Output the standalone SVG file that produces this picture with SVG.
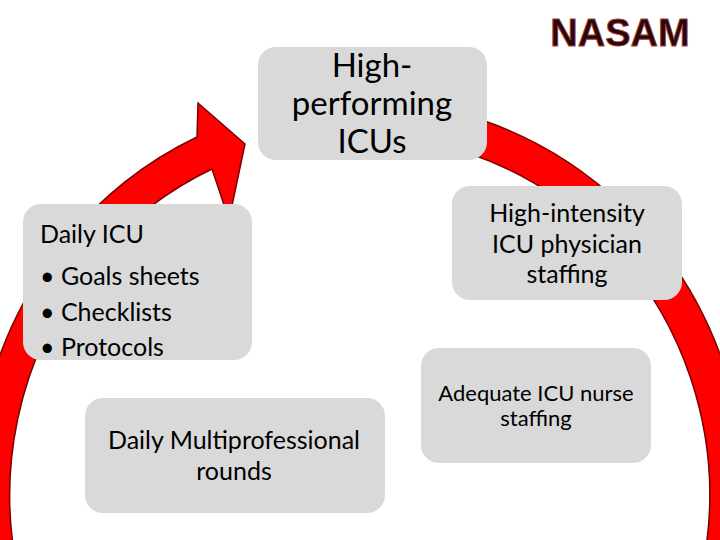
<svg xmlns="http://www.w3.org/2000/svg" width="720" height="540" viewBox="0 0 720 540">
<style>
.box{fill:#d9d9d9}
.t{font-family:Lato,"Open Sans",sans-serif;fill:#000}
.c{text-anchor:middle}
</style>
<rect width="720" height="540" fill="#fff"/>
<g id="connectors">
<path d="M479,119 A385,395 0 1 1 197,137 L198,103 L245,144 L229,220 L212,169 A350,360 0 1 0 468,153 Z" fill="#ff0000" stroke="#7a0000" stroke-width="1.5"/>
</g>
<g id="nasam">
<text x="620" y="46" class="c" font-family="Liberation Sans,Arial,sans-serif" font-weight="bold" font-size="38" fill="#2a0808" stroke="#a04040" stroke-width="0.8">NASAM</text>
</g>
<g id="high-performing">
<rect class="box" x="258" y="47" width="229" height="113" rx="18"/>
<text class="t c" font-size="33"><tspan x="372" y="77">High-</tspan><tspan x="372" y="115">performing</tspan><tspan x="372" y="153">ICUs</tspan></text>
</g>
<g id="high-intensity">
<rect class="box" x="452" y="186" width="230" height="114" rx="18"/>
<text class="t c" font-size="25"><tspan x="567" y="222">High-intensity</tspan><tspan x="567" y="253">ICU physician</tspan><tspan x="567" y="283">staffing</tspan></text>
</g>
<g id="daily-icu">
<rect class="box" x="23" y="204" width="229" height="156" rx="18"/>
<text class="t" font-size="25"><tspan x="40" y="243">Daily ICU</tspan><tspan x="40" y="285">• Goals sheets</tspan><tspan x="40" y="321">• Checklists</tspan><tspan x="40" y="356">• Protocols</tspan></text>
</g>
<g id="adequate">
<rect class="box" x="421" y="348" width="230" height="115" rx="18"/>
<text class="t c" font-size="22"><tspan x="536" y="401">Adequate ICU nurse</tspan><tspan x="536" y="426">staffing</tspan></text>
</g>
<g id="multiprofessional">
<rect class="box" x="85" y="398" width="300" height="115" rx="18"/>
<text class="t c" font-size="25"><tspan x="234" y="449">Daily Multiprofessional</tspan><tspan x="234" y="480">rounds</tspan></text>
</g>
</svg>
